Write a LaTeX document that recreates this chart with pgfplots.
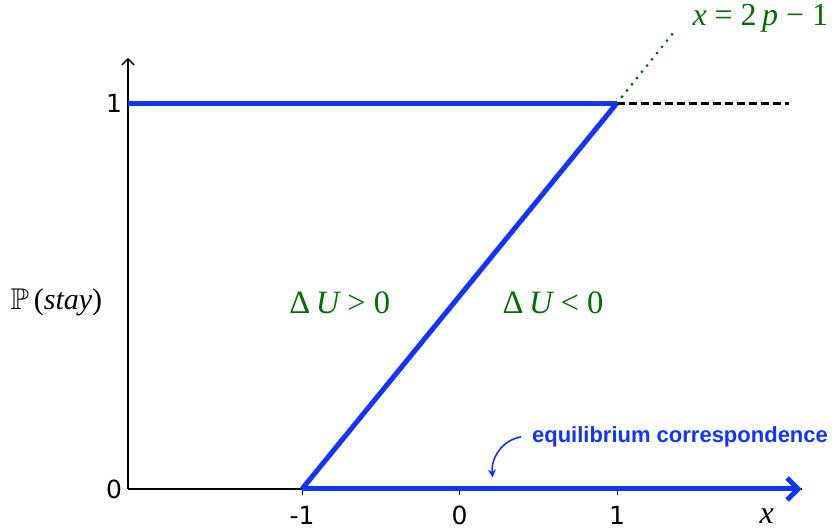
\documentclass[border=0pt]{standalone}
\usepackage{amssymb}
\usepackage{pgfplots}
\pgfplotsset{compat=1.18}
\usetikzlibrary{arrows.meta}
\usepackage{fontspec}
\setmainfont{Liberation Serif}
\newfontfamily\tickfont{DejaVu Sans}
\newfontfamily\notefont{Liberation Sans}
\definecolor{eqblue}{RGB}{18,52,255}
\definecolor{regiongreen}{RGB}{0,112,0}
\begin{document}
\begin{tikzpicture}
\begin{axis}[
  x=78.75pt, y=193pt,
  xmin=-2.105, xmax=2.173,
  ymin=0, ymax=1.117,
  axis lines=left,
  x axis line style={-},
  y axis line style={-{Straight Barb[length=3pt,width=6pt]}},
  axis line style={line width=0.7pt},
  xtick={-1,0,1}, xticklabels={-1,0,1},
  ytick={0,1}, yticklabels={0,1},
  tick style={black, line width=0.5pt},
  major tick length=3pt,
  ytick style={draw=none},
  tick align=outside,
  ticklabel style={font=\tickfont\fontsize{12.5}{14}\selectfont},
  xticklabel style={yshift=-2pt},
  yticklabel style={xshift=3.5pt},
  /pgf/number format/assume math mode=true,
  clip=false,
]
% y = 1 branch
\addplot[eqblue, line width=2.5pt] coordinates {(-2.105,1) (1,1)};
% rising branch
\addplot[eqblue, line width=2.5pt, line join=round] coordinates {(-1,0) (1,1)};
% y = 0 branch with arrow
\addplot[eqblue, line width=2.5pt, -{Straight Barb[length=5.5pt,width=11pt]}] coordinates {(-1,0) (2.173,0)};
% dashed continuation
\addplot[black, line width=1.5pt, dash pattern=on 4pt off 2pt] coordinates {(1,1) (2.09,1)};
% dotted pointer to label
\addplot[regiongreen, line width=1.6pt, line cap=round, dash pattern=on 0pt off 4pt] coordinates {(1,1) (1.381,1.194)};

\node[regiongreen, font=\fontsize{16}{18}\selectfont] at (axis cs:1.91,1.22) {\itshape x\upshape{} = 2\,\itshape p\upshape{} − 1};
\node[regiongreen, font=\fontsize{16.3}{18}\selectfont] at (axis cs:-0.76,0.482) {Δ\,\itshape U\upshape{} > 0};
\node[regiongreen, font=\fontsize{16.3}{18}\selectfont] at (axis cs:0.594,0.482) {Δ\,\itshape U\upshape{} < 0};
\node[font=\fontsize{15}{17}\selectfont] at (axis cs:-2.56,0.484) {$\mathbb{P}$\,(\itshape stay\upshape)};
\node[font=\fontsize{16}{18}\selectfont\itshape] at (axis cs:1.95,-0.07) {x};
\node[eqblue, font=\notefont\bfseries\fontsize{11}{13}\selectfont] at (axis cs:1.4,0.135) {equilibrium correspondence};
\draw[eqblue, line width=0.8pt, -{Stealth[length=4pt,width=4pt]}] (axis cs:0.39,0.135) to[out=190,in=95] (axis cs:0.21,0.03);

\coordinate (bl) at (axis cs:-2.918,-0.1036);
\coordinate (tr) at (axis cs:2.397,1.267);
\end{axis}
\pgfresetboundingbox
\useasboundingbox (bl) rectangle (tr);
\end{tikzpicture}
\end{document}
